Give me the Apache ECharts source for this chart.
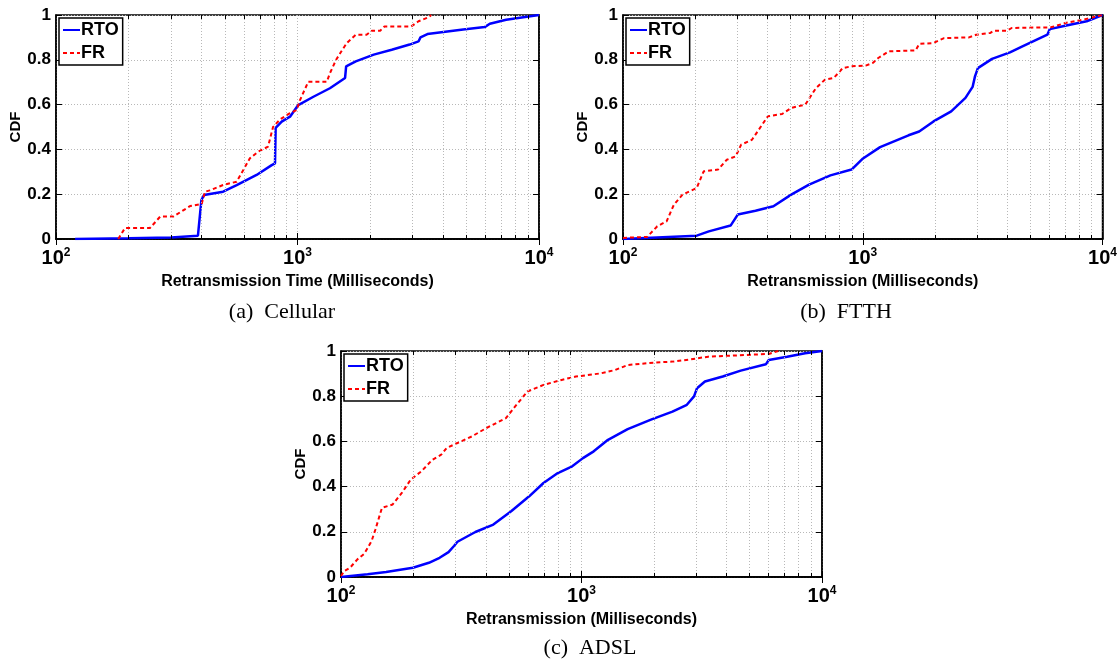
<!DOCTYPE html>
<html>
<head>
<meta charset="utf-8">
<script src="https://cdn.jsdelivr.net/npm/echarts/dist/echarts.min.js"></script>
<style>
  html, body { margin: 0; padding: 0; background: #fff; }
  #main { width: 1120px; height: 660px; }
</style>
</head>
<body>
<div id="main"></div>
<script>
// values (x in ms, y = CDF)
const cellRtoX = [120, 200, 300, 387, 400, 410, 492, 560, 677, 782, 807, 812, 860, 931, 1007, 1164, 1362, 1574, 1590, 1743, 2069, 2456, 2913, 3170, 3230, 3452, 4853, 5957, 6257, 7311, 10000];
const cellRtoY = [0, 0.003, 0.007, 0.015, 0.174, 0.196, 0.211, 0.241, 0.286, 0.33, 0.338, 0.496, 0.524, 0.546, 0.598, 0.635, 0.673, 0.719, 0.771, 0.793, 0.823, 0.845, 0.868, 0.882, 0.9, 0.915, 0.935, 0.946, 0.961, 0.979, 1.0];
const cellFrX = [181, 193, 245, 270, 306, 359, 401, 414, 433, 492, 560, 635, 687, 755, 792, 847, 931, 993, 1024, 1108, 1322, 1362, 1445, 1520, 1600, 1743, 1931, 2033, 2200, 2291, 2957, 3170, 3508, 3575];
const cellFrY = [0, 0.049, 0.049, 0.1, 0.1, 0.147, 0.156, 0.211, 0.217, 0.241, 0.256, 0.36, 0.39, 0.412, 0.5, 0.534, 0.562, 0.576, 0.62, 0.702, 0.702, 0.74, 0.8, 0.838, 0.875, 0.912, 0.912, 0.93, 0.93, 0.949, 0.949, 0.972, 0.991, 1.0];

const ftthRtoX = [100, 203, 228, 281, 301, 357, 424, 503, 597, 733, 898, 995, 1181, 1552, 1719, 1972, 2338, 2681, 2871, 2938, 3020, 3460, 4110, 4634, 5888, 6025, 6986, 8586, 10000];
const ftthRtoY = [0, 0.015, 0.034, 0.06, 0.109, 0.126, 0.146, 0.198, 0.243, 0.284, 0.31, 0.357, 0.41, 0.463, 0.48, 0.525, 0.57, 0.63, 0.679, 0.726, 0.763, 0.804, 0.833, 0.86, 0.912, 0.937, 0.952, 0.972, 1.0];
const ftthFrX = [100, 126, 139, 152, 163, 177, 203, 217, 249, 271, 295, 311, 345, 402, 461, 503, 576, 638, 695, 757, 825, 898, 1028, 1101, 1160, 1285, 1662, 1719, 1972, 2184, 2773, 2971, 3405, 3527, 4000, 4180, 6092, 6986, 8290, 10000];
const ftthFrY = [0.005, 0.009, 0.057, 0.079, 0.153, 0.198, 0.228, 0.302, 0.31, 0.354, 0.369, 0.421, 0.443, 0.548, 0.558, 0.585, 0.6, 0.674, 0.711, 0.719, 0.763, 0.771, 0.774, 0.786, 0.808, 0.838, 0.842, 0.871, 0.875, 0.897, 0.9, 0.912, 0.92, 0.93, 0.93, 0.942, 0.945, 0.964, 0.979, 1.0];

const adslRtoX = [100, 129, 154, 199, 232, 257, 280, 295, 305, 362, 430, 510, 606, 695, 797, 915, 1014, 1124, 1289, 1556, 1945, 2389, 2742, 2937, 3022, 3260, 3866, 4592, 5841, 6005, 7162, 8506, 10000];
const adslRtoY = [0, 0.012, 0.022, 0.041, 0.063, 0.085, 0.11, 0.137, 0.156, 0.199, 0.232, 0.291, 0.357, 0.416, 0.46, 0.49, 0.526, 0.556, 0.607, 0.654, 0.696, 0.732, 0.762, 0.799, 0.835, 0.865, 0.887, 0.913, 0.941, 0.96, 0.975, 0.99, 1.0];
const adslFrX = [100, 103, 109, 117, 125, 134, 139, 148, 164, 179, 195, 216, 240, 261, 275, 305, 350, 402, 485, 529, 596, 695, 826, 947, 1203, 1380, 1556, 2013, 2389, 2835, 3367, 4746, 6005, 6577];
const adslFrY = [0.004, 0.026, 0.041, 0.078, 0.103, 0.159, 0.21, 0.306, 0.321, 0.372, 0.431, 0.468, 0.519, 0.541, 0.571, 0.593, 0.622, 0.659, 0.703, 0.754, 0.821, 0.85, 0.872, 0.887, 0.901, 0.916, 0.938, 0.949, 0.953, 0.963, 0.975, 0.982, 0.987, 1.0];

const seriesNames = ['RTO', 'FR'];
const xNames = ['Retransmission Time (Milliseconds)', 'Retransmission (Milliseconds)', 'Retransmission (Milliseconds)'];
const captions = ['(a)  Cellular', '(b)  FTTH', '(c)  ADSL'];
const minorTicks = [200, 300, 400, 500, 600, 700, 800, 900, 2000, 3000, 4000, 5000, 6000, 7000, 8000, 9000];

const panels = [
    [cellRtoX, cellRtoY, cellFrX, cellFrY],
    [ftthRtoX, ftthRtoY, ftthFrX, ftthFrY],
    [adslRtoX, adslRtoY, adslFrX, adslFrY]
];

// layout of the three plot boxes
const boxes = [
    {left: 56, top: 15, width: 483, height: 224},
    {left: 623, top: 15, width: 481, height: 224},
    {left: 341, top: 351, width: 481, height: 226}
];
const captionPos = [[282, 312], [846, 312], [590, 648]];

const FONT = 'Liberation Sans';
const zip = (xs, ys) => xs.map((x, i) => [x, ys[i]]);

let grid = [], xAxis = [], yAxis = [], series = [], legend = [], graphic = [];

boxes.forEach((b, i) => {
    grid.push(Object.assign({show: true, borderColor: '#000', borderWidth: 1.5, backgroundColor: '#fff'}, b));

    // bottom axis with labels
    xAxis.push({
        type: 'log', logBase: 10, min: 100, max: 10000, gridIndex: i,
        name: xNames[i], nameLocation: 'middle', nameGap: 22,
        nameTextStyle: {fontFamily: FONT, fontWeight: 'bold', fontSize: 16, color: '#000'},
        axisLine: {lineStyle: {color: '#000', width: 1.5}},
        axisTick: {inside: true, length: 6, lineStyle: {color: '#000'}},
        splitLine: {show: true, lineStyle: {color: '#b8b8b8', type: [1, 2]}},
        axisLabel: {
            margin: 8, color: '#000',
            formatter: function (v) {
                return '{b|10}{s|' + Math.round(Math.log10(v)) + '}';
            },
            rich: {
                b: {fontFamily: FONT, fontWeight: 'bold', fontSize: 20, color: '#000', lineHeight: 22},
                s: {fontFamily: FONT, fontWeight: 'bold', fontSize: 12, color: '#000', verticalAlign: 'top', lineHeight: 22, padding: [0, 0, 14, 0]}
            }
        }
    });
    // top axis, ticks only
    xAxis.push({
        type: 'log', logBase: 10, min: 100, max: 10000, gridIndex: i, position: 'top',
        axisLine: {lineStyle: {color: '#000', width: 1.5}},
        axisTick: {inside: true, length: 6, lineStyle: {color: '#000'}},
        axisLabel: {show: false}, splitLine: {show: false}
    });
    yAxis.push({
        type: 'value', min: 0, max: 1, interval: 0.2, gridIndex: i,
        name: 'CDF', nameLocation: 'middle', nameGap: 26,
        nameTextStyle: {fontFamily: FONT, fontWeight: 'bold', fontSize: 15, color: '#000'},
        axisLine: {show: true, lineStyle: {color: '#000', width: 1.5}},
        axisTick: {show: true, inside: true, length: 6, lineStyle: {color: '#000'}},
        splitLine: {show: true, lineStyle: {color: '#b8b8b8', type: [1, 2]}},
        axisLabel: {fontFamily: FONT, fontWeight: 'bold', fontSize: 17, color: '#000', margin: 5}
    });
    yAxis.push({
        type: 'value', min: 0, max: 1, interval: 0.2, gridIndex: i, position: 'right',
        axisLine: {show: true, lineStyle: {color: '#000', width: 1.5}},
        axisTick: {show: true, inside: true, length: 6, lineStyle: {color: '#000'}},
        axisLabel: {show: false}, splitLine: {show: false}
    });

    const xi = i * 2, yi = i * 2;
    // minor grid lines and minor ticks on the log axis
    series.push({
        type: 'line', xAxisIndex: xi, yAxisIndex: yi, data: [], z: 1, silent: true,
        markLine: {
            symbol: 'none', silent: true, animation: false,
            label: {show: false},
            lineStyle: {color: '#b8b8b8', type: [1, 2], width: 1},
            data: minorTicks.map(v => ({xAxis: v}))
                .concat(minorTicks.map(v => [
                    {coord: [v, 0], lineStyle: {color: '#000', type: 'solid', width: 1}},
                    {coord: [v, 0.018]}
                ]))
                .concat(minorTicks.map(v => [
                    {coord: [v, 1], lineStyle: {color: '#000', type: 'solid', width: 1}},
                    {coord: [v, 0.982]}
                ]))
        }
    });

    const d = panels[i];
    series.push({
        name: 'RTO', type: 'line', xAxisIndex: xi, yAxisIndex: yi, z: 3,
        symbol: 'none',
        lineStyle: {color: '#0000ff', width: 2.5},
        itemStyle: {color: '#0000ff'},
        data: zip(d[0], d[1])
    });
    series.push({
        name: 'FR', type: 'line', xAxisIndex: xi, yAxisIndex: yi, z: 3,
        symbol: 'none',
        lineStyle: {color: '#ff0000', width: 2, type: [4, 3]},
        itemStyle: {color: '#ff0000'},
        data: zip(d[2], d[3])
    });

    legend.push({
        data: seriesNames, orient: 'vertical', selectedMode: false,
        left: b.left + 3, top: b.top + 3,
        padding: [3, 4, 3, 3], itemGap: 5,
        itemWidth: 17, itemHeight: 15,
        itemStyle: {color: 'transparent', borderColor: 'transparent', borderWidth: 0},
        backgroundColor: '#fff', borderColor: '#000', borderWidth: 1.5,
        textStyle: {fontFamily: FONT, fontWeight: 'bold', fontSize: 18, color: '#000', padding: [0, 0, 0, -4]}
    });

    graphic.push({
        type: 'text', x: captionPos[i][0], y: captionPos[i][1],
        style: {text: captions[i], font: '22px "Liberation Serif"', fill: '#000', align: 'center', verticalAlign: 'middle'}
    });
});

let myChart = echarts.init(document.getElementById('main'));
myChart.setOption({
    animation: false,
    backgroundColor: '#fff',
    grid: grid,
    xAxis: xAxis,
    yAxis: yAxis,
    legend: legend,
    series: series,
    graphic: graphic
});
</script>
</body>
</html>
